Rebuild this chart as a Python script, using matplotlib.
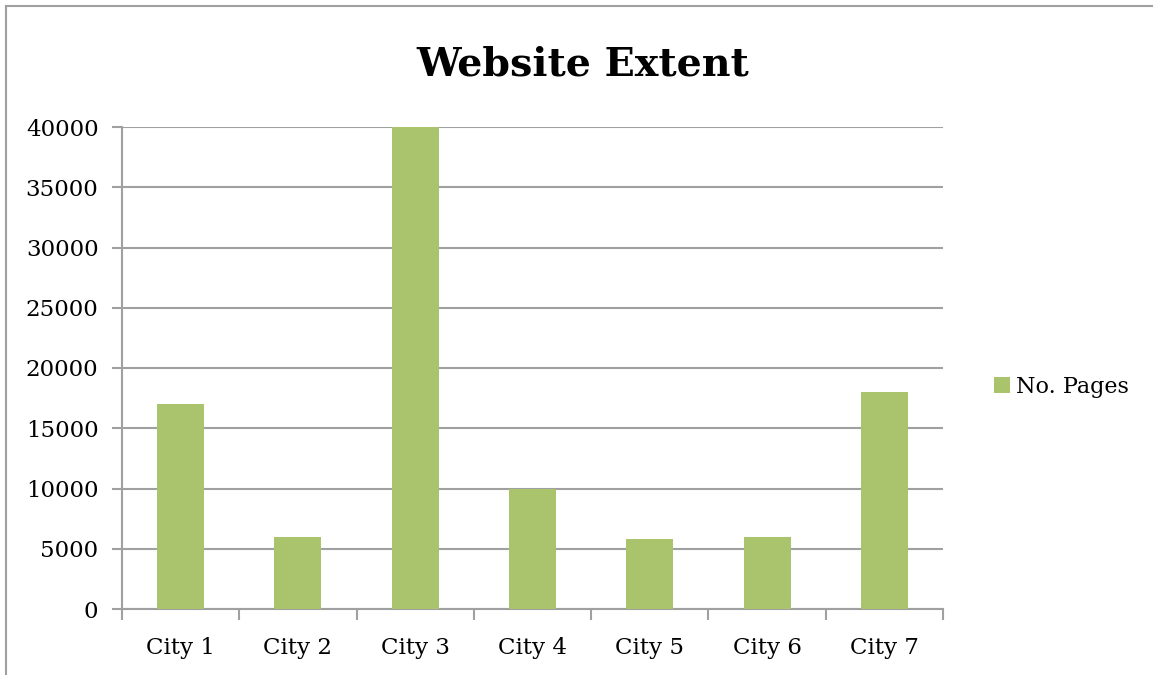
import matplotlib
matplotlib.use('Agg')
import matplotlib.pyplot as plt
from matplotlib.lines import Line2D

plt.rcParams['font.family'] = 'DejaVu Serif'

cities = ['City 1', 'City 2', 'City 3', 'City 4', 'City 5', 'City 6', 'City 7']
pages = [17000, 6000, 40000, 10000, 5800, 6000, 18000]
yticks = [0, 5000, 10000, 15000, 20000, 25000, 30000, 35000, 40000]

grid_col = '#A0A0A0'
bar_col = '#AAC46E'

fig = plt.figure(figsize=(11.53, 6.75), dpi=100)
ax = fig.add_axes([122/1153, 1 - 609/675, 821/1153, 482/675])

x = list(range(len(cities)))
ax.bar(x, pages, width=0.4, color=bar_col, label='No. Pages', zorder=3)

ax.set_xlim(-0.5, len(cities) - 0.5)
ax.set_ylim(0, 40000)
ax.set_yticks(yticks)
ax.set_yticklabels([str(v) for v in yticks])
ax.yaxis.grid(True, color=grid_col, linewidth=1.5, zorder=0)

# category labels centred, ticks on category boundaries
ax.set_xticks(x)
ax.set_xticklabels(cities)
ax.set_xticks([i - 0.5 for i in range(len(cities) + 1)], minor=True)
ax.tick_params(axis='x', which='major', length=0, pad=20, labelsize=16.5)
ax.tick_params(axis='x', which='minor', length=8, width=1.5, color=grid_col, direction='out')
ax.tick_params(axis='y', length=7, width=1.5, color=grid_col, pad=10, labelsize=16.5)

for s in ['top', 'right']:
    ax.spines[s].set_visible(False)
for s in ['left', 'bottom']:
    ax.spines[s].set_color(grid_col)
    ax.spines[s].set_linewidth(1.5)

fig.text(583/1153, 1 - 65/675, 'Website Extent', ha='center', va='center',
         fontsize=28.5, fontweight='bold')

ax.legend(loc='center left', bbox_to_anchor=(983/1153, 1 - 387/675),
          bbox_transform=fig.transFigure, frameon=False, fontsize=16,
          handlelength=0.7, handleheight=0.7, handletextpad=0.3, borderpad=0)

# outer chart frame (top and left edges visible)
fig.add_artist(Line2D([6/1153, 1], [1 - 6/675, 1 - 6/675], color=grid_col, linewidth=1.5))
fig.add_artist(Line2D([6/1153, 6/1153], [0, 1 - 6/675], color=grid_col, linewidth=1.5))

fig.savefig('out.png', dpi=100)
